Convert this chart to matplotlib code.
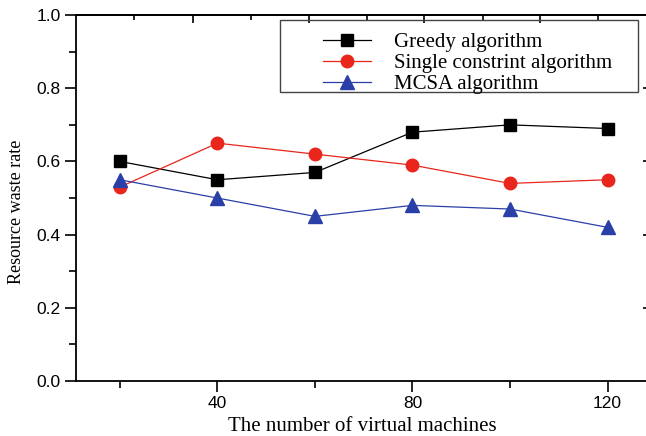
import numpy as np
import matplotlib
matplotlib.use("Agg")
import matplotlib.pyplot as plt
from matplotlib.ticker import MultipleLocator, FormatStrFormatter
from matplotlib.patches import Rectangle

vms = [20, 40, 60, 80, 100, 120]
greedy = [0.60, 0.55, 0.57, 0.68, 0.70, 0.69]
single = [0.53, 0.65, 0.62, 0.59, 0.54, 0.55]
mcsa = [0.55, 0.50, 0.45, 0.48, 0.47, 0.42]

fig = plt.figure(figsize=(6.46, 4.36), dpi=100)
ax = fig.add_axes([0.1176, 0.126, 0.887, 0.8395])

ax.plot(vms, greedy, color='black', lw=0.9, marker='s', ms=8, label='Greedy algorithm')
ax.plot(vms, single, color='#e8261c', lw=0.9, marker='o', ms=9, label='Single constrint algorithm')
ax.plot(vms, mcsa, color='#2a3fa8', lw=0.9, marker='^', ms=10, label='MCSA algorithm')

ax.set_xlim(11, 128.5)
ax.set_ylim(0, 1.0)
ax.xaxis.set_major_locator(MultipleLocator(40))
ax.xaxis.set_minor_locator(MultipleLocator(20))
ax.yaxis.set_major_locator(MultipleLocator(0.2))
ax.yaxis.set_minor_locator(MultipleLocator(0.1))
ax.yaxis.set_major_formatter(FormatStrFormatter('%.1f'))

ax.tick_params(which='both', direction='out', width=1.2)
ax.tick_params(which='major', length=8, labelsize=12.5, pad=3)
ax.tick_params(which='minor', length=5)

# the top axis in the original has its own (unlinked) tick spacing, ticks inward
top = ax.secondary_xaxis('top')
top.set_xticks([34.9, 58.7, 82.3, 106.1], labels=[])
top.set_xticks([23.0, 46.8, 70.6, 94.4, 118.0], minor=True)
top.tick_params(which='major', direction='in', length=6, width=1.2)
top.tick_params(which='minor', direction='in', length=3.5, width=1.2)
top.spines['top'].set_linewidth(1.3)
right = ax.secondary_yaxis('right')
right.set_yticks([0.2, 0.4, 0.6, 0.8], labels=[])
right.tick_params(direction='in', length=4, width=1.2)

for lab in ax.get_xticklabels() + ax.get_yticklabels():
    lab.set_family('Liberation Sans')
for s in ax.spines.values():
    s.set_linewidth(1.3)

ax.set_xlabel('The number of virtual machines', family='Liberation Serif', fontsize=15, labelpad=4)
ax.set_ylabel('Resource waste rate', family='Liberation Serif', fontsize=13)
ax.yaxis.set_label_coords(-0.089, 0.462)

leg = ax.legend(loc='upper left', bbox_to_anchor=(0.431, 0.952), prop={'family': 'Liberation Serif', 'size': 15},
                frameon=False, handlelength=2.3, borderpad=0, labelspacing=0.06,
                handletextpad=1.1, borderaxespad=0)
ax.add_patch(Rectangle((0.356, 0.790), 0.625, 0.196, transform=ax.transAxes,
                       fill=False, edgecolor='#444444', lw=1.0, zorder=4))

fig.savefig('out.png', dpi=100)
